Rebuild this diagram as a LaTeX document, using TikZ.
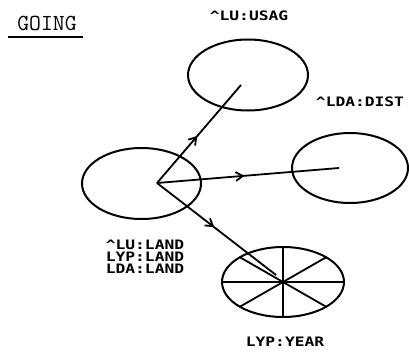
\documentclass[tikz,border=0pt]{standalone}
\usepackage{fontspec}
\usetikzlibrary{shapes.geometric,arrows.meta,decorations.markings}
\newfontfamily\plotfont[FakeStretch=1.25]{DejaVu Sans Mono Bold}
\begin{document}
\begin{tikzpicture}[x=1pt,y=-1pt,
  oval/.style={draw,ellipse,line width=2pt,minimum width=119pt,minimum height=71pt,inner sep=0pt},
  conn/.style={line width=1.8pt,
    decoration={markings,mark=at position 0.48 with {\arrow{Straight Barb[length=7pt,width=9pt,line width=1.8pt]}}},
    postaction={decorate}},
  lbl/.style={font=\plotfont\fontsize{13}{12}\selectfont,inner sep=0pt},
  spoke/.style={line width=1.8pt}]
\useasboundingbox (0,0) rectangle (409,353);
% ellipses
\node[oval,minimum width=120pt] (top) at (248,75) {};
\node[oval] (left) at (141.5,183.5) {};
\node[oval,minimum width=116pt,minimum height=70pt] (right) at (350,168) {};
\node[oval,minimum width=122pt,minimum height=70pt] (bot) at (283,282) {};
\foreach \a in {0,45,...,315}
  \draw[spoke] (bot.center) -- ++(\a:61 and 35);
% arrow ends
\coordinate (src) at ([shift={(15.5,-0.5)}]left.center);
\coordinate (ptop) at ([shift={(-7,10)}]top.center);
\coordinate (pright) at ([shift={(-11,0)}]right.center);
\coordinate (pbot) at ([shift={(-7,-7)}]bot.center);
\draw[conn] (src) -- (ptop);
\draw[conn] (src) -- (pright);
\draw[conn] (src) -- (pbot);
% labels
\node[lbl] (usag) at (249,16) {\textasciicircum LU:USAG};
\node[lbl] (dist) at (360,102) {\textasciicircum LDA:DIST};
\node[lbl] (year) at (285,342) {LYP:YEAR};
\node[lbl,align=left] (land) at (145,257) {\textasciicircum LU:LAND\\LYP:LAND\\LDA:LAND};
\node[font=\ttfamily\fontsize{23}{23}\selectfont,inner sep=0pt] (going) at (47,23) {GOING};
\draw[line width=1.5pt] (8,37) -- (83,37);
\end{tikzpicture}
\end{document}
